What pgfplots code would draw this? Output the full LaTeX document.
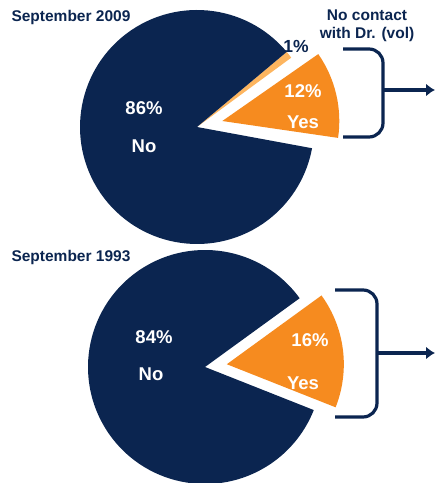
\documentclass[border=0pt]{standalone}
\usepackage{pgfplots}
\pgfplotsset{compat=1.18}
\usepackage{fontspec}
\setmainfont{Liberation Sans}
\usetikzlibrary{arrows.meta}
\definecolor{navy}{HTML}{0B2550}
\definecolor{orng}{HTML}{F68B1F}
\definecolor{lorng}{HTML}{FDB55F}

% #1,#2 centre, #3 start angle, #4 explode distance, #5 share/colour/explode/gap after
\newcommand{\pieslices}[5]{%
  \xdef\cur{#3}%
  \foreach \s/\c/\e/\g in {#5} {%
    \pgfmathsetmacro\angA{\cur}%
    \pgfmathsetmacro\angB{\cur+3.6*\s}%
    \pgfmathsetmacro\angM{(\angA+\angB)/2}%
    \pgfmathsetmacro\tx{#1+\e*#4*cos(\angM)}%
    \pgfmathsetmacro\ty{#2+\e*#4*sin(\angM)}%
    \edef\temp{\noexpand\fill[\c] (axis cs:\tx,\ty) -- ++(\angA:117bp)
      arc[start angle=\angA, end angle=\angB, radius=117bp] -- cycle;}%
    \temp
    \pgfmathsetmacro\nxt{\angB+3.6*\g}%
    \xdef\cur{\nxt}%
  }%
}

\begin{document}
\begin{tikzpicture}
\begin{axis}[width=435bp, height=483bp, scale only axis,
  xmin=0, xmax=435, ymin=0, ymax=483, hide axis, clip=false]

% September 2009: Yes 12, no contact 1, No 86
\pieslices{197}{356}{-8.3}{26}{12/orng/1/0.4, 1/lorng/0/0, 86/navy/0/0}
% September 1993: Yes 16, No 84
\pieslices{205}{116}{-21.6}{22}{16/orng/1/0, 84/navy/0/0}

\tikzset{bigw/.style={text=white, font=\fontsize{18.5bp}{22bp}\selectfont\bfseries},
  ttl/.style={text=navy, font=\fontsize{15.5bp}{18bp}\selectfont\bfseries}}

\node[ttl, anchor=west] at (axis cs:8,466) {September 2009};
\node[ttl, align=center] at (axis cs:367,457) {No contact\\with Dr. (vol)};
\node[text=navy, font=\fontsize{17.5bp}{20bp}\selectfont\bfseries] at (axis cs:296,437) {1\%};
\node[bigw] at (axis cs:144,375) {86\%};
\node[bigw] at (axis cs:144,337) {No};
\node[bigw] at (axis cs:303,392) {12\%};
\node[bigw] at (axis cs:303,361) {Yes};

\node[ttl, anchor=west] at (axis cs:8,226) {September 1993};
\node[bigw] at (axis cs:154,146) {84\%};
\node[bigw] at (axis cs:151,109) {No};
\node[bigw] at (axis cs:310,143) {16\%};
\node[bigw] at (axis cs:303,100) {Yes};

\draw[navy, line width=3.2bp, rounded corners=14bp]
  (axis cs:343,434) -- (axis cs:383,434) -- (axis cs:383,346) -- (axis cs:343,346);
\draw[navy, line width=3.2bp, -{Latex[length=9bp,width=13bp]}]
  (axis cs:383,393) -- (axis cs:435,393);
\draw[navy, line width=3.2bp, rounded corners=14bp]
  (axis cs:335,193) -- (axis cs:377,193) -- (axis cs:377,66) -- (axis cs:335,66);
\draw[navy, line width=3.2bp, -{Latex[length=9bp,width=13bp]}]
  (axis cs:377,130) -- (axis cs:435,130);
\end{axis}
\pgfresetboundingbox
\path (current axis.south west) rectangle (current axis.north east);
\end{tikzpicture}
\end{document}
